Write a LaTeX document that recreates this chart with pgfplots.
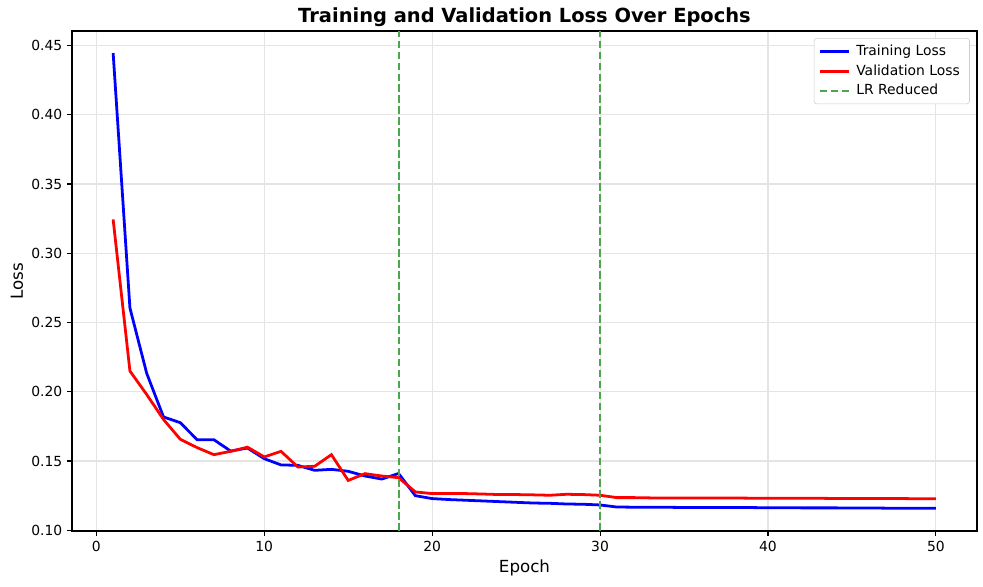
\documentclass[border=0pt]{standalone}
\usepackage{pgfplots}
\pgfplotsset{compat=1.18}
\usepackage{fontspec}
\setmainfont{DejaVu Sans}

\definecolor{lrgreen}{RGB}{77,166,77}
\definecolor{gridgray}{RGB}{228,228,228}
\definecolor{legframe}{RGB}{204,204,204}

\begin{document}
\begin{tikzpicture}
\begin{axis}[
  scale only axis,
  width=651.6pt, height=360pt,
  xmin=-1.45, xmax=52.45,
  ymin=0.0995, ymax=0.4604,
  xtick={0,10,20,30,40,50},
  ytick={0.10,0.15,0.20,0.25,0.30,0.35,0.40,0.45},
  yticklabel style={/pgf/number format/.cd, fixed, fixed zerofill, precision=2},
  /pgf/number format/assume math mode=true,
  tick label style={font=\fontsize{10}{12}\selectfont},
  tick align=outside,
  major tick length=3.5pt,
  xtick pos=bottom, ytick pos=left,
  tick style={black, line width=0.8pt},
  axis line style={line width=0.8pt},
  grid=major,
  major grid style={gridgray, line width=0.8pt},
  every axis title shift=0pt,
  title={\bfseries Training and Validation Loss Over Epochs},
  title style={font=\fontsize{14}{16}\selectfont,
    at={(axis description cs:0.5,1.028)}, anchor=center},
  xlabel={Epoch}, ylabel={Loss},
  label style={font=\fontsize{12}{14}\selectfont},
  xlabel style={at={(axis description cs:0.5,-0.074)}, anchor=center},
  ylabel style={at={(axis description cs:-0.0608,0.5)}, anchor=center},
  legend style={at={(0.992,0.986)}, anchor=north east,
    draw=legframe, rounded corners=2pt, fill=white,
    font=\fontsize{10}{12}\selectfont, row sep=1pt,
    inner xsep=3pt, inner ysep=3pt,
    nodes={inner xsep=4pt}},
  legend cell align=left,
  legend image code/.code={\draw[#1] (0cm,0cm) -- (0.75cm,0cm);},
  unbounded coords=jump,
]
\addplot[blue, line width=2pt] coordinates {
(1,0.4445) (2,0.2605) (3,0.2133) (4,0.1818) (5,0.1777) (6,0.1654) (7,0.1654)
(8,0.1572) (9,0.1594) (10,0.1517) (11,0.1472) (12,0.1469) (13,0.1433) (14,0.1440)
(15,0.1426) (16,0.1392) (17,0.1370) (18,0.1410) (19,0.1250) (20,0.1229)
(21,0.1222) (22,0.1217) (23,0.1212) (24,0.1207) (25,0.1202) (26,0.1197)
(27,0.1195) (28,0.1190) (29,0.1188) (30,0.1183) (31,0.1168) (32,0.1167)
(33,0.1166) (34,0.1166) (35,0.1165) (36,0.1165) (37,0.1164) (38,0.1164)
(39,0.1164) (40,0.1163) (41,0.1163) (42,0.1162) (43,0.1162) (44,0.1162)
(45,0.1161) (46,0.1161) (47,0.1160) (48,0.1160) (49,0.1160) (50,0.1159)
};
\addlegendentry{Training Loss}
\addplot[red, line width=2pt] coordinates {
(1,0.3244) (2,0.2150) (3,0.1980) (4,0.1800) (5,0.1657) (6,0.1597) (7,0.1546)
(8,0.1570) (9,0.1600) (10,0.1530) (11,0.1570) (12,0.1457) (13,0.1462) (14,0.1546)
(15,0.1360) (16,0.1409) (17,0.1392) (18,0.1380) (19,0.1277) (20,0.1265)
(21,0.1266) (22,0.1265) (23,0.1262) (24,0.1258) (25,0.1258) (26,0.1256)
(27,0.1253) (28,0.1260) (29,0.1258) (30,0.1253) (31,0.1236) (32,0.1236)
(33,0.1234) (34,0.1234) (35,0.1234) (36,0.1233) (37,0.1233) (38,0.1233)
(39,0.1232) (40,0.1232) (41,0.1231) (42,0.1232) (43,0.1231) (44,0.1230)
(45,0.1230) (46,0.1230) (47,0.1229) (48,0.1229) (49,0.1228) (50,0.1228)
};
\addlegendentry{Validation Loss}
% learning-rate drops at epochs 18 and 30
\addplot[lrgreen, line width=1.5pt, dash pattern=on 5.5pt off 2.4pt] coordinates {
(18,0.0995) (18,0.4604) (24,nan) (30,0.0995) (30,0.4604)};
\addlegendentry{LR Reduced}
\end{axis}
\pgfresetboundingbox
\path (current axis.south west) ++(-51.84pt,-39.6pt) coordinate (bbl)
      (current axis.north east) ++(4.32pt,22.32pt) coordinate (btr);
\path (bbl) rectangle (btr);
\end{tikzpicture}
\end{document}
